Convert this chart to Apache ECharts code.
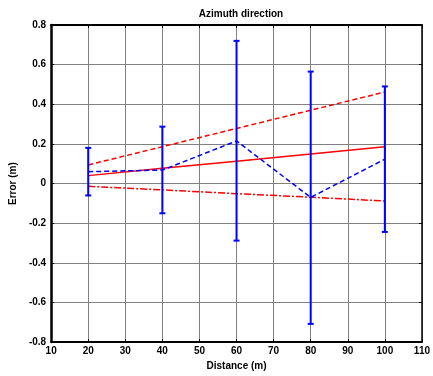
<!DOCTYPE html>
<html><head><meta charset="utf-8">
<script src="https://cdn.jsdelivr.net/npm/echarts@6/dist/echarts.min.js"></script>
<style>html,body{margin:0;padding:0;background:#fff}#c{width:433px;height:376px}</style>
</head><body><div id="c"></div>
<script>
const distances = [20, 40, 60, 80, 100];
const meanErr = [0.06, 0.068, 0.215, -0.07, 0.123];
const errUpper = [0.18, 0.287, 0.72, 0.565, 0.49];
const errLower = [-0.06, -0.15, -0.288, -0.708, -0.244];
const redSolid = [0.04, 0.077, 0.113, 0.149, 0.186];
const redDashed = [0.094, 0.186, 0.278, 0.37, 0.462];
const redDashDot = [-0.014, -0.032, -0.051, -0.069, -0.088];
const xTicks = [10, 20, 30, 40, 50, 60, 70, 80, 90, 100, 110];
const yTicks = [-0.8, -0.6, -0.4, -0.2, 0, 0.2, 0.4, 0.6, 0.8];

const font = 'Liberation Sans, Arial, sans-serif';
const chart = echarts.init(document.getElementById('c'));
const pair = arr => distances.map((d, i) => [d, arr[i]]);
const errData = distances.map((d, i) => [d, errLower[i], errUpper[i]]);

chart.setOption({
  animation: false,
  title: {text: 'Azimuth direction', left: 236, top: 4, textAlign: 'center',
    textStyle: {fontFamily: font, fontSize: 10, fontWeight: 'bold', color: '#000'}},
  grid: {left: 48, right: 8, top: 25, bottom: 29},
  xAxis: [{
    type: 'value', min: xTicks[0], max: xTicks[xTicks.length - 1], interval: 10,
    name: 'Distance (m)', nameLocation: 'middle', nameGap: 18,
    nameTextStyle: {fontFamily: font, fontSize: 10, fontWeight: 'bold', color: '#000'},
    axisLine: {onZero: false, lineStyle: {color: '#000', width: 2}},
    axisTick: {inside: true, length: 3, lineStyle: {color: '#000'}},
    axisLabel: {fontFamily: font, fontSize: 10, fontWeight: 'bold', color: '#000', margin: 4},
    splitLine: {show: true, lineStyle: {color: '#808080', width: 1}}
  }, {
    type: 'value', position: 'top', min: 10, max: 110, interval: 10,
    axisLine: {onZero: false, lineStyle: {color: '#000', width: 2}},
    axisTick: {inside: true, length: 3, lineStyle: {color: '#000'}},
    axisLabel: {show: false}, splitLine: {show: false}
  }],
  yAxis: [{
    type: 'value', min: yTicks[0], max: yTicks[yTicks.length - 1], interval: 0.2,
    name: 'Error (m)', nameLocation: 'middle', nameGap: 28, nameRotate: 90,
    nameTextStyle: {fontFamily: font, fontSize: 10, fontWeight: 'bold', color: '#000'},
    axisLine: {onZero: false, lineStyle: {color: '#000', width: 2.5}},
    axisTick: {inside: true, length: 3, lineStyle: {color: '#000'}},
    axisLabel: {fontFamily: font, fontSize: 10, fontWeight: 'bold', color: '#000', margin: 5,
      formatter: v => (Math.abs(v) < 1e-9 ? '0' : String(+v.toFixed(1)))},
    splitLine: {show: true, lineStyle: {color: '#808080', width: 1}}
  }, {
    type: 'value', position: 'right', min: -0.8, max: 0.8, interval: 0.2,
    axisLine: {onZero: false, lineStyle: {color: '#000', width: 1.5}},
    axisTick: {inside: true, length: 3, lineStyle: {color: '#000'}},
    axisLabel: {show: false}, splitLine: {show: false}
  }],
  series: [
    {type: 'line', data: pair(redDashed), symbol: 'none', z: 3,
      lineStyle: {color: '#ff0000', width: 1.5, type: [5, 3]}},
    {type: 'line', data: pair(redSolid), symbol: 'none', z: 3,
      lineStyle: {color: '#ff0000', width: 1.5}},
    {type: 'line', data: pair(redDashDot), symbol: 'none', z: 3,
      lineStyle: {color: '#ff0000', width: 1.5, type: [7, 2, 2, 2]}},
    {type: 'line', data: pair(meanErr), symbol: 'none', z: 4,
      lineStyle: {color: '#0000ff', width: 1.5, type: [5, 3]}},
    {type: 'custom', z: 5, data: errData,
      renderItem: (params, api) => {
        const x = api.value(0);
        const lo = api.coord([x, api.value(1)]);
        const hi = api.coord([x, api.value(2)]);
        const cw = 3;
        const st = {stroke: '#0000ff', lineWidth: 2};
        return {type: 'group', children: [
          {type: 'line', shape: {x1: lo[0], y1: lo[1], x2: hi[0], y2: hi[1]}, style: st},
          {type: 'line', shape: {x1: lo[0] - cw, y1: lo[1], x2: lo[0] + cw, y2: lo[1]}, style: st},
          {type: 'line', shape: {x1: hi[0] - cw, y1: hi[1], x2: hi[0] + cw, y2: hi[1]}, style: st}
        ]};
      }}
  ]
});
</script></body></html>
